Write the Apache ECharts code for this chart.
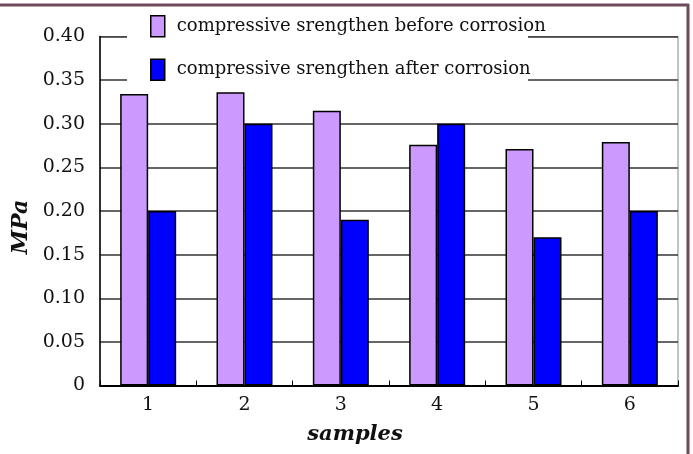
<!DOCTYPE html>
<html>
<head>
<meta charset="utf-8">
<script src="https://cdn.jsdelivr.net/npm/echarts@6/dist/echarts.min.js"></script>
<style>html,body{margin:0;padding:0;background:#fff;}#c{width:693px;height:454px;}</style>
</head>
<body>
<div id="c"></div>
<script>
const categories = ['1', '2', '3', '4', '5', '6'];
const beforeName = 'compressive srengthen before corrosion';
const afterName = 'compressive srengthen after corrosion';
const beforeValues = [0.334, 0.336, 0.315, 0.276, 0.271, 0.279];
const afterValues = [0.20, 0.30, 0.19, 0.30, 0.17, 0.20];
const yTicks = ['0', '0.05', '0.10', '0.15', '0.20', '0.25', '0.30', '0.35', '0.40'];

const FONT = 'DejaVu Serif';
const chart = echarts.init(document.getElementById('c'), null, {renderer: 'canvas'});
chart.setOption({
  animation: false,
  backgroundColor: '#fff',
  grid: {left: 100, right: 15, top: 36.5, bottom: 68.5, show: true, borderColor: '#888', borderWidth: 1, backgroundColor: 'transparent'},
  legend: {
    orient: 'vertical', left: 145, top: 10, itemWidth: 14, itemHeight: 21, itemGap: 21,
    icon: 'rect', z: 5,
    textStyle: {fontFamily: FONT, fontSize: 18, color: '#111', padding: [0, 0, 2, 7]},
    itemStyle: {borderColor: '#000', borderWidth: 1.5},
    data: [beforeName, afterName]
  },
  graphic: [
    {type: 'rect', z: 1, shape: {x: 127, y: 7, width: 401, height: 82}, style: {fill: '#fff'}},
    {type: 'line', z: 10, shape: {x1: 0, y1: 5, x2: 689, y2: 5}, style: {stroke: '#6e4a5c', lineWidth: 3}},
    {type: 'line', z: 10, shape: {x1: 688, y1: 4, x2: 688, y2: 454}, style: {stroke: '#6e4a5c', lineWidth: 3}}
  ],
  xAxis: {
    type: 'category', data: categories,
    name: 'samples', nameLocation: 'middle', nameGap: 39,
    nameTextStyle: {fontFamily: FONT, fontSize: 21, fontWeight: 'bold', fontStyle: 'italic', color: '#111', padding: [0, 68, 0, 0]},
    axisLine: {lineStyle: {color: '#000', width: 2}},
    axisTick: {show: true, inside: true, length: 5, lineStyle: {color: '#000', width: 1}},
    axisLabel: {fontFamily: FONT, fontSize: 19, color: '#111', margin: 10}
  },
  yAxis: {
    type: 'value', min: 0, max: 0.4, interval: 0.05,
    name: 'MPa', nameLocation: 'middle', nameGap: 66,
    nameTextStyle: {fontFamily: FONT, fontSize: 22, fontWeight: 'bold', fontStyle: 'italic', color: '#111', padding: [0, 32, 0, 0]},
    axisLine: {show: true, lineStyle: {color: '#000', width: 1.5}},
    axisTick: {show: false},
    axisLabel: {fontFamily: FONT, fontSize: 19, color: '#111', margin: 15,
      formatter: function (v) { return yTicks[Math.round(v / 0.05)]; }},
    splitLine: {lineStyle: {color: '#333', width: 1.5}}
  },
  series: [
    {name: beforeName, type: 'bar', data: beforeValues, barWidth: 28, barGap: '0%',
     itemStyle: {color: '#cc99ff', borderColor: '#000', borderWidth: 1.5}},
    {name: afterName, type: 'bar', data: afterValues, barWidth: 28, barGap: '0%',
     itemStyle: {color: '#0000ff', borderColor: '#000', borderWidth: 1.5}}
  ]
});
</script>
</body>
</html>
